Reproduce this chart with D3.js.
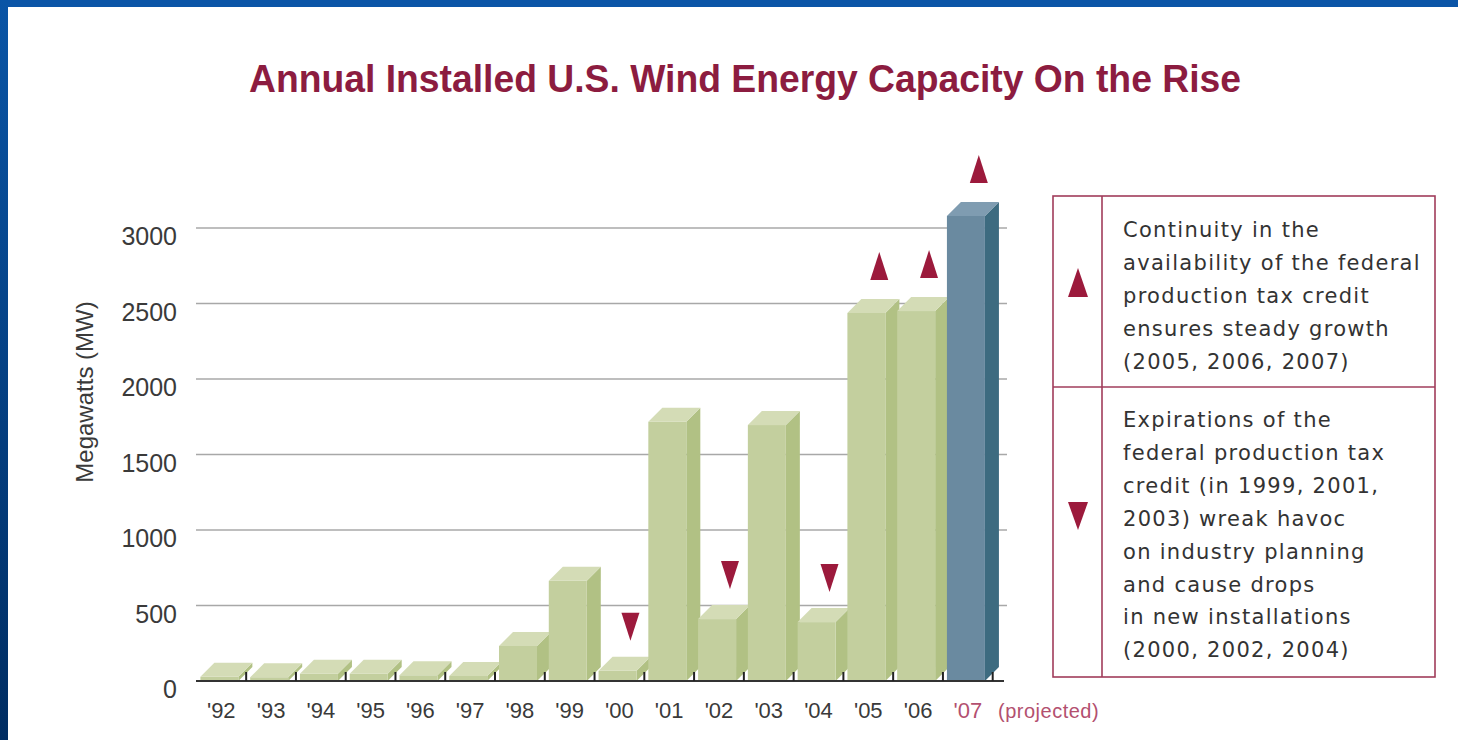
<!DOCTYPE html>
<html><head><meta charset="utf-8">
<script src="https://cdn.jsdelivr.net/npm/d3@7"></script>
<style>html,body{margin:0;padding:0;background:#fff;overflow:hidden}</style>
</head><body>
<svg id="c" width="1458" height="740"></svg>
<script>
// ---- data ----
const years = ["'92","'93","'94","'95","'96","'97","'98","'99","'00","'01","'02","'03","'04","'05","'06","'07"];
const capacityMW = [28, 25, 48, 48, 38, 33, 232, 664, 68, 1717, 410, 1695, 390, 2437, 2450, 3080];
const projectedYears = ["'07"];
const upMarkers = ["'05","'06","'07"];
const downMarkers = ["'00","'02","'04"];
const yTicks = [0, 500, 1000, 1500, 2000, 2500, 3000];
const titleText = "Annual Installed U.S. Wind Energy Capacity On the Rise";
const yTitle = "Megawatts (MW)";
const projectedNote = "(projected)";
const legendUp = ["Continuity in the","availability of the federal","production tax credit","ensures steady growth","(2005, 2006, 2007)"];
const legendDown = ["Expirations of the","federal production tax","credit (in 1999, 2001,","2003) wreak havoc","on industry planning","and cause drops","in new installations","(2000, 2002, 2004)"];

const svg = d3.select("#c");
const maroon = "#9c1a3c";

// frame background
const defs = svg.append("defs");
const lg = defs.append("linearGradient").attr("id","lb").attr("x1",0).attr("y1",0).attr("x2",0).attr("y2",1);
lg.append("stop").attr("offset","0%").attr("stop-color","#0a55a6");
lg.append("stop").attr("offset","100%").attr("stop-color","#002d62");
svg.append("rect").attr("x",0).attr("y",0).attr("width",1458).attr("height",740).attr("fill","#fff");
svg.append("rect").attr("x",0).attr("y",0).attr("width",1458).attr("height",7).attr("fill","#0b55a7");
svg.append("rect").attr("x",0).attr("y",0).attr("width",8).attr("height",740).attr("fill","url(#lb)");

// title
svg.append("text").attr("x",745).attr("y",92).attr("text-anchor","middle")
  .attr("font-family","'Liberation Sans Narrow','Liberation Sans',Arial,sans-serif")
  .attr("font-weight","bold").attr("font-size",38).attr("fill","#8c1c40")
  .attr("textLength",992).attr("lengthAdjust","spacingAndGlyphs").text(titleText);

// scales
const x = d3.scaleBand().domain(years).range([196.4, 992.7]).padding(0);
const y = d3.scaleLinear().domain([0, 3000]).range([681, 228]);
const bw = x.bandwidth();
const fw = 38, dx = 14, dy = 14, off = 4;

// gridlines
svg.append("g").selectAll("line").data(yTicks.filter(d => d > 0)).join("line")
  .attr("x1",196).attr("x2",1007).attr("y1",d => y(d)).attr("y2",d => y(d))
  .attr("stroke","#a8a8a8").attr("stroke-width",1.3);

// y labels
svg.append("g").selectAll("text").data(yTicks).join("text")
  .attr("x",177).attr("y",d => y(d) + 17).attr("text-anchor","end")
  .attr("font-family","'Liberation Sans',Arial,sans-serif").attr("font-size",25)
  .attr("fill","#3a3a3a").text(d => d);

svg.append("text").attr("transform","translate(93,392) rotate(-90)").attr("text-anchor","middle")
  .attr("font-family","'Liberation Sans',Arial,sans-serif").attr("font-size",24)
  .attr("fill","#3a3a3a").text(yTitle);

// bars (3D)
const data = years.map((yr, i) => ({yr, v: capacityMW[i], proj: projectedYears.includes(yr)}));
const colors = {
  green: {front:"#c3cf9e", side:"#b1c184", top:"#d4dcb6"},
  blue: {front:"#6a8aa0", side:"#3d6b80", top:"#7f9cb1"}
};
const bars = svg.append("g").selectAll("g").data(data).join("g");
bars.each(function(d){
  const g = d3.select(this);
  const c = d.proj ? colors.blue : colors.green;
  const x0 = x(d.yr) + off, x1 = x0 + fw, yt = y(d.v), yb = y(0);
  g.append("path").attr("d", `M${x1},${yb} L${x1+dx},${yb-dy} L${x1+dx},${yt-dy} L${x1},${yt} Z`).attr("fill", c.side);
  g.append("rect").attr("x", x0).attr("y", yt).attr("width", fw).attr("height", Math.max(0, yb - yt)).attr("fill", c.front);
  g.append("path").attr("d", `M${x0},${yt} L${x0+dx},${yt-dy} L${x1+dx},${yt-dy} L${x1},${yt} Z`).attr("fill", c.top);
});

// axis line and ticks
svg.append("line").attr("x1",196).attr("x2",1004).attr("y1",681).attr("y2",681)
  .attr("stroke","#333").attr("stroke-width",2);
svg.append("g").selectAll("line").data(years).join("line")
  .attr("x1",d => x(d) + bw).attr("x2",d => x(d) + bw).attr("y1",672).attr("y2",681)
  .attr("stroke","#222").attr("stroke-width",2);

// x labels
svg.append("g").selectAll("text").data(years).join("text")
  .attr("x",d => x(d) + bw/2).attr("y",718).attr("text-anchor","middle")
  .attr("font-family","'Liberation Sans',Arial,sans-serif").attr("font-size",22)
  .attr("fill",d => projectedYears.includes(d) ? "#b3506f" : "#3a3a3a").text(d => d);
svg.append("text").attr("x",998).attr("y",718)
  .attr("font-family","'Liberation Sans',Arial,sans-serif").attr("font-size",20)
  .attr("letter-spacing",0.5).attr("fill","#b3506f").text(projectedNote);

// markers
const tw = 18, th = 28, gap = 16;
const mcx = d => x(d) + bw/2 + 11;
const val = d => capacityMW[years.indexOf(d)];
svg.append("g").selectAll("path").data(upMarkers).join("path")
  .attr("d", d => { const b = y(val(d)) - dy - gap - 3, cx = mcx(d);
    return `M${cx-tw/2},${b} L${cx+tw/2},${b} L${cx},${b-th} Z`; })
  .attr("fill", maroon);
svg.append("g").selectAll("path").data(downMarkers).join("path")
  .attr("d", d => { const t = y(val(d)) - dy - gap, cx = mcx(d);
    return `M${cx-tw/2},${t-th} L${cx+tw/2},${t-th} L${cx},${t} Z`; })
  .attr("fill", maroon);

// legend
const lgG = svg.append("g");
const bc = "#a13c5b";
lgG.append("rect").attr("x",1053).attr("y",196).attr("width",382).attr("height",481)
  .attr("fill","#fff").attr("stroke",bc).attr("stroke-width",1.6);
lgG.append("line").attr("x1",1102).attr("x2",1102).attr("y1",196).attr("y2",677).attr("stroke",bc).attr("stroke-width",1.6);
lgG.append("line").attr("x1",1053).attr("x2",1435).attr("y1",387).attr("y2",387).attr("stroke",bc).attr("stroke-width",1.6);
lgG.append("path").attr("d","M1068,297 L1088,297 L1078,268 Z").attr("fill",maroon);
lgG.append("path").attr("d","M1068,502 L1088,502 L1078,530 Z").attr("fill",maroon);
const lt = (lines, y0) => lgG.append("g").selectAll("text").data(lines).join("text")
  .attr("x",1123).attr("y",(d,i) => y0 + i*32.9)
  .attr("font-family","'DejaVu Sans',sans-serif").attr("font-size",21)
  .attr("letter-spacing",1.3).attr("fill","#333").text(d => d);
lt(legendUp, 237);
lt(legendDown, 427);
</script>
</body></html>
